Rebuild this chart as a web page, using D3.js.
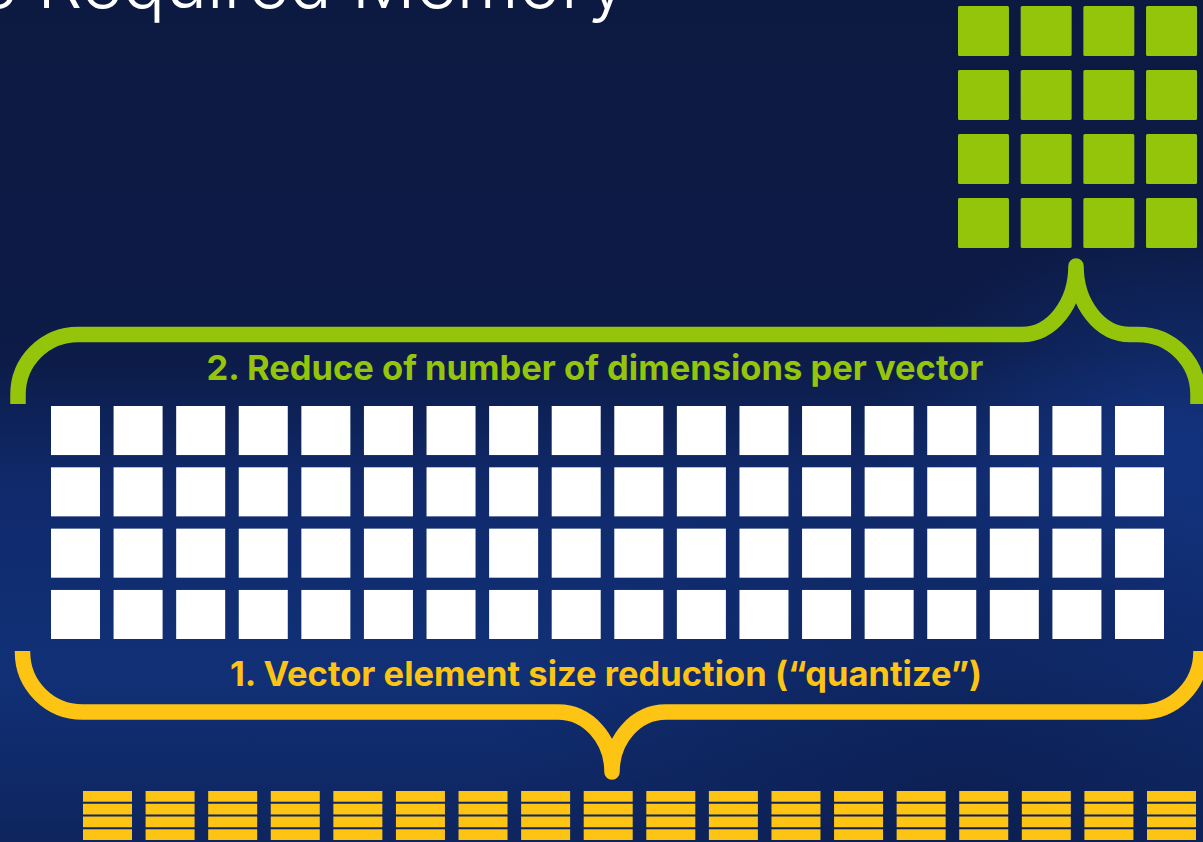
<!DOCTYPE html>
<html>
<head>
<meta charset="utf-8">
<script src="https://cdn.jsdelivr.net/npm/d3@7"></script>
<style>
    html, body { margin: 0; padding: 0; background: #0c1a42; overflow: hidden; }
    svg { display: block; }
</style>
</head>
<body>
<div id="chart"></div>
<script>
// full-size vector: 18 dimensions x 4 vectors
var vectorDims = [1, 2, 3, 4, 5, 6, 7, 8, 9, 10, 11, 12, 13, 14, 15, 16, 17, 18];
var vectorRows = ['v1', 'v2', 'v3', 'v4'];
// reduced dimensions (green)
var reducedDims = [1, 2, 3, 4];
var reducedRows = ['v1', 'v2', 'v3', 'v4'];
// quantized elements: each dimension split in 4 small slices
var quantDims = [1, 2, 3, 4, 5, 6, 7, 8, 9, 10, 11, 12, 13, 14, 15, 16, 17, 18];
var quantSlices = ['b1', 'b2', 'b3', 'b4'];

var titleText = 'Reduce Required Memory';
var greenLabel = '2. Reduce of number of dimensions per vector';
var yellowLabel = '1. Vector element size reduction (\u201cquantize\u201d)';

var width = 1203;
var height = 842;
var green = '#95c50b';
var yellow = '#fdc414';

var svg = d3.select('#chart').append('svg')
    .attr('width', width)
    .attr('height', height);

var defs = svg.append('defs');

var bg = defs.append('linearGradient')
    .attr('id', 'bg')
    .attr('x1', 0).attr('y1', 0).attr('x2', 0).attr('y2', 1);
bg.append('stop').attr('offset', '0%').attr('stop-color', '#0c1a42');
bg.append('stop').attr('offset', '42%').attr('stop-color', '#0c1b47');
bg.append('stop').attr('offset', '58%').attr('stop-color', '#102a6c');
bg.append('stop').attr('offset', '80%').attr('stop-color', '#113076');
bg.append('stop').attr('offset', '100%').attr('stop-color', '#0e255e');

var glow = defs.append('radialGradient')
    .attr('id', 'glow')
    .attr('cx', 0.98).attr('cy', 0.52).attr('r', 0.25);
glow.append('stop').attr('offset', '0%').attr('stop-color', '#15398c').attr('stop-opacity', 0.7);
glow.append('stop').attr('offset', '100%').attr('stop-color', '#15398c').attr('stop-opacity', 0);

var shade = defs.append('radialGradient')
    .attr('id', 'shade')
    .attr('cx', 0.8).attr('cy', 0.95).attr('r', 0.4);
shade.append('stop').attr('offset', '0%').attr('stop-color', '#0b1c4c').attr('stop-opacity', 0.7);
shade.append('stop').attr('offset', '100%').attr('stop-color', '#0b1c4c').attr('stop-opacity', 0);

svg.append('rect').attr('width', width).attr('height', height).attr('fill', 'url(#bg)');
svg.append('rect').attr('width', width).attr('height', height).attr('fill', 'url(#glow)');
svg.append('rect').attr('width', width).attr('height', height).attr('fill', 'url(#shade)');

// title, mostly cut off at the top like the source slide
svg.append('text')
    .text(titleText)
    .attr('x', 627)
    .attr('y', 8)
    .attr('text-anchor', 'end')
    .attr('fill', '#ffffff')
    .style('font-family', 'Inter, "Noto Sans", sans-serif')
    .style('font-weight', 300)
    .style('font-size', '71px');

// green 4x4 grid
var gx = d3.scaleBand().domain(reducedDims).range([958, 1197]).paddingInner(0.187);
var gy = d3.scaleBand().domain(reducedRows).range([6, 248]).paddingInner(0.219);

var greenCells = [];
reducedRows.forEach(r => reducedDims.forEach(c => greenCells.push({ r: r, c: c })));

svg.append('g').selectAll('rect')
    .data(greenCells)
    .enter()
    .append('rect')
    .attr('x', d => gx(d.c))
    .attr('y', d => gy(d.r))
    .attr('width', gx.bandwidth())
    .attr('height', gy.bandwidth())
    .attr('rx', 1.5)
    .attr('fill', green);

// white 18x4 grid
var wx = d3.scaleBand().domain(vectorDims).range([51, 1164]).paddingInner(0.217);
var wy = d3.scaleBand().domain(vectorRows).range([406, 639]).paddingInner(0.2);

var whiteCells = [];
vectorRows.forEach(r => vectorDims.forEach(c => whiteCells.push({ r: r, c: c })));

svg.append('g').selectAll('rect')
    .data(whiteCells)
    .enter()
    .append('rect')
    .attr('x', d => wx(d.c))
    .attr('y', d => wy(d.r))
    .attr('width', wx.bandwidth())
    .attr('height', wy.bandwidth())
    .attr('fill', '#ffffff');

// yellow quantized columns
var qx = d3.scaleBand().domain(quantDims).range([83, 1196]).paddingInner(0.217);
var qy = d3.scaleBand().domain(quantSlices).range([791, 840]).paddingInner(0.16);

var quantCells = [];
quantDims.forEach(c => quantSlices.forEach(s => quantCells.push({ c: c, s: s })));

svg.append('g').selectAll('rect')
    .data(quantCells)
    .enter()
    .append('rect')
    .attr('x', d => qx(d.c))
    .attr('y', d => qy(d.s))
    .attr('width', qx.bandwidth())
    .attr('height', qy.bandwidth())
    .attr('fill', yellow);

// curly brace: ends bend toward the wide grid, tip points at the small one
function brace(x0, x1, yLine, yEnd, tipX, tipY, r, half) {
    var p = d3.path();
    var dir = yEnd > yLine ? 1 : -1;
    var k = 0.5523;
    p.moveTo(x0, yEnd);
    p.lineTo(x0, yLine + dir * r);
    p.arcTo(x0, yLine, x0 + r, yLine, r);
    p.lineTo(tipX - half, yLine);
    p.bezierCurveTo(tipX - half + half * k, yLine, tipX, tipY + (yLine - tipY) * k, tipX, tipY);
    p.bezierCurveTo(tipX, tipY + (yLine - tipY) * k, tipX + half - half * k, yLine, tipX + half, yLine);
    p.lineTo(x1 - r, yLine);
    p.arcTo(x1, yLine, x1, yLine + dir * r, r);
    p.lineTo(x1, yEnd);
    return p.toString();
}

svg.append('path')
    .attr('d', brace(18, 1198, 334.5, 404, 1076, 266, 60, 54))
    .attr('fill', 'none')
    .attr('stroke', green)
    .attr('stroke-width', 15.5)
    .attr('stroke-linejoin', 'round')
    .attr('stroke-linecap', 'butt');

svg.append('path')
    .attr('d', brace(22.5, 1201, 712, 651, 612, 772, 60, 54))
    .attr('fill', 'none')
    .attr('stroke', yellow)
    .attr('stroke-width', 15.5)
    .attr('stroke-linejoin', 'round')
    .attr('stroke-linecap', 'butt');

svg.append('text')
    .text(greenLabel)
    .attr('x', 595)
    .attr('y', 380)
    .attr('text-anchor', 'middle')
    .attr('fill', green)
    .style('font-family', 'Inter, "Noto Sans", sans-serif')
    .style('font-weight', 700)
    .style('font-size', '34.5px');

svg.append('text')
    .text(yellowLabel)
    .attr('x', 606)
    .attr('y', 686)
    .attr('text-anchor', 'middle')
    .attr('fill', yellow)
    .style('font-family', 'Inter, "Noto Sans", sans-serif')
    .style('font-weight', 700)
    .style('font-size', '34.5px');
</script>
</body>
</html>
